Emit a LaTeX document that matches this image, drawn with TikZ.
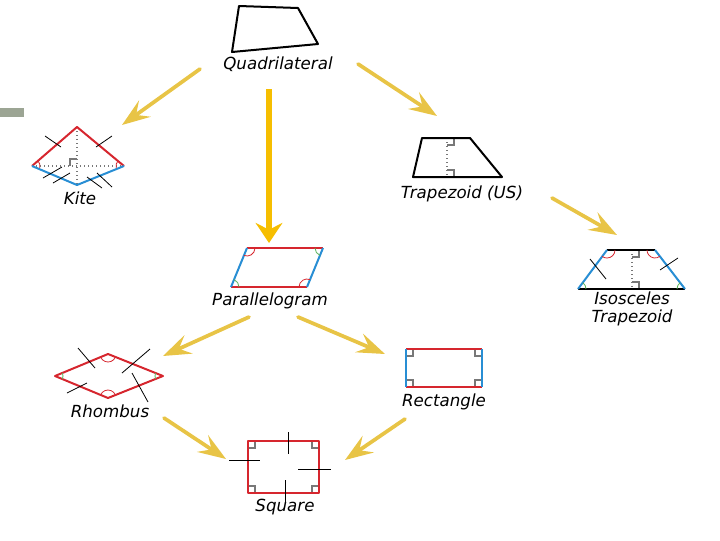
\documentclass[tikz,border=0pt]{standalone}
\usepackage{fontspec}
\setsansfont{DejaVu Sans}
\usetikzlibrary{arrows.meta}

\definecolor{arryellow}{RGB}{232,196,70}
\definecolor{bigyellow}{RGB}{246,190,0}
\definecolor{shred}{RGB}{214,38,46}
\definecolor{shblue}{RGB}{40,142,212}
\definecolor{shgreen}{RGB}{88,178,88}
\definecolor{markgray}{RGB}{120,120,120}
\definecolor{barcol}{RGB}{156,165,148}

\tikzset{every picture/.style={line width=0.75pt}}
\tikzset{
  yarrow/.style={draw=arryellow, line width=2.8pt, line cap=round,
    -{Stealth[length=21pt, width=15pt, inset=8pt]}},
  bigarrow/.style={draw=bigyellow, line width=4.5pt,
    -{Stealth[length=15pt, width=20pt, inset=5pt]}},
  redln/.style={draw=shred, line width=1.5pt, line join=round},
  blueln/.style={draw=shblue, line width=1.5pt, line join=round},
  blkln/.style={draw=black, line width=1.5pt, line join=round},
  dotln/.style={draw=markgray, dotted, line width=1pt},
  tickln/.style={draw=black, line width=0.6pt},
  rtmark/.style={draw=markgray, line width=0.9pt},
  redarc/.style={draw=shred, line width=0.6pt},
  greenarc/.style={draw=shgreen, line width=0.6pt},
  lbl/.style={inner sep=0.75pt, font=\sffamily\itshape\fontsize{12.5}{13}\selectfont}
}

\begin{document}
\begin{tikzpicture}[x=0.75pt,y=0.75pt,yscale=-1,xscale=1]
\useasboundingbox (0,0) rectangle (720,540);

%Shape: Bar
\fill[barcol] (0,108) rectangle (24,117);

%Shape: Quadrilateral
\draw[blkln] (239,6) -- (298,8) -- (318,44) -- (232,52) -- cycle;

%Shape: Kite
\draw[dotln] (32,166) -- (124,166);
\draw[dotln] (77,127) -- (77,185);
\draw[rtmark] (70,166) -- (70,159) -- (77,159);
\draw[redln] (32,166) -- (77,127) -- (124,166);
\draw[blueln] (32,166) -- (77,185) -- (124,166);
\draw[redarc] (32,166) ++(-41:8) arc (-41:15:8);
\draw[redarc] (124,166) ++(165:8) arc (165:221:8);
\draw[tickln] (45,136) -- (61,147);
\draw[tickln] (96,147) -- (112,136);
\draw[tickln] (43,178) -- (62,167);
\draw[tickln] (53,183) -- (70,173);
\draw[tickln] (87,177) -- (102,188);
\draw[tickln] (97,173) -- (112,187);

%Shape: Trapezoid
\draw[dotln] (447,138) -- (447,177);
\draw[rtmark] (447,145) -- (454,145) -- (454,138);
\draw[rtmark] (447,170) -- (454,170) -- (454,177);
\draw[blkln] (422,138) -- (470,138) -- (502,177) -- (413,177) -- cycle;

%Shape: Isosceles Trapezoid
\draw[dotln] (632,250) -- (632,289);
\draw[rtmark] (632,257) -- (639,257) -- (639,250);
\draw[rtmark] (632,282) -- (639,282) -- (639,289);
\draw[blkln] (607,250) -- (655,250);
\draw[blkln] (578,289) -- (685,289);
\draw[blueln] (607,250) -- (578,289);
\draw[blueln] (655,250) -- (685,289);
\draw[redarc] (607,250) ++(0:8) arc (0:126.6:8);
\draw[redarc] (655,250) ++(52.4:8) arc (52.4:180:8);
\draw[greenarc] (578,289) ++(-53.4:8) arc (-53.4:0:8);
\draw[greenarc] (685,289) ++(180:8) arc (180:232.4:8);
\draw[tickln] (590,259) -- (606,279);
\draw[tickln] (660,270) -- (678,258);

%Shape: Parallelogram
\draw[redln] (247,248) -- (323,248);
\draw[redln] (231,287) -- (307,287);
\draw[blueln] (247,248) -- (231,287);
\draw[blueln] (323,248) -- (307,287);
\draw[redarc] (247,248) ++(0:8) arc (0:112:8);
\draw[redarc] (307,287) ++(180:8) arc (180:292:8);
\draw[greenarc] (323,248) ++(112:8) arc (112:180:8);
\draw[greenarc] (231,287) ++(-68:8) arc (-68:0:8);

%Shape: Rhombus
\draw[redln] (55,376) -- (108,354) -- (163,376) -- (108,398) -- cycle;
\draw[redarc] (108,354) ++(21.8:8) arc (21.8:157.5:8);
\draw[redarc] (108,398) ++(202.5:8) arc (202.5:338.2:8);
\draw[greenarc] (55,376) ++(-22.5:8) arc (-22.5:22.5:8);
\draw[greenarc] (163,376) ++(158.2:8) arc (158.2:201.8:8);
\draw[tickln] (78,348) -- (95,368);
\draw[tickln] (122,373) -- (150,349);
\draw[tickln] (132,373) -- (148,402);
\draw[tickln] (67,393) -- (87,383);

%Shape: Rectangle
\draw[rtmark] (406,356) -- (413,356) -- (413,349);
\draw[rtmark] (482,356) -- (475,356) -- (475,349);
\draw[rtmark] (406,380) -- (413,380) -- (413,387);
\draw[rtmark] (482,380) -- (475,380) -- (475,387);
\draw[redln, line width=1pt] (406,349) -- (482,349);
\draw[redln] (406,387) -- (482,387);
\draw[blueln] (406,349) -- (406,387);
\draw[blueln] (482,349) -- (482,387);

%Shape: Square
\draw[rtmark] (248,448) -- (255,448) -- (255,441);
\draw[rtmark] (319,448) -- (312,448) -- (312,441);
\draw[rtmark] (248,486) -- (255,486) -- (255,493);
\draw[rtmark] (319,486) -- (312,486) -- (312,493);
\draw[redln] (248,441) rectangle (319,493);
\draw[tickln] (288,432) -- (288,454);
\draw[tickln] (285,480) -- (285,503);
\draw[tickln] (229,460) -- (260,460);
\draw[tickln] (298,469) -- (331,469);

% Arrow ends
\coordinate (qk1) at (200,69);
\coordinate (qk2) at (122,125);
\coordinate (qt1) at (358,64);
\coordinate (qt2) at (437,116);
\coordinate (qp1) at (269,89);
\coordinate (qp2) at (269,243);
\coordinate (ti1) at (552,198);
\coordinate (ti2) at (617,235);
\coordinate (pr1) at (249,317);
\coordinate (pr2) at (163,356);
\coordinate (pc1) at (298,317);
\coordinate (pc2) at (385,354);
\coordinate (rs1) at (164,418);
\coordinate (rs2) at (226,459);
\coordinate (cs1) at (405,419);
\coordinate (cs2) at (345,460);

%Arrows
\draw[yarrow] (qk1) -- (qk2);
\draw[yarrow] (qt1) -- (qt2);
\draw[bigarrow] (qp1) -- (qp2);
\draw[yarrow] (ti1) -- (ti2);
\draw[yarrow] (pr1) -- (pr2);
\draw[yarrow] (pc1) -- (pc2);
\draw[yarrow] (rs1) -- (rs2);
\draw[yarrow] (cs1) -- (cs2);

% Text Node
\node[lbl] (quadlbl) at (278,64) {Quadrilateral};
% Text Node
\node[lbl] (kitelbl) at (80,198) {Kite};
% Text Node
\node[lbl] (traplbl) at (462,194) {Trapezoid (US)};
% Text Node
\node[lbl, align=center] (isolbl) at (632,309) {Isosceles\\Trapezoid};
% Text Node
\node[lbl] (paralbl) at (270,301) {Parallelogram};
% Text Node
\node[lbl] (rhomlbl) at (110,411) {Rhombus};
% Text Node
\node[lbl] (rectlbl) at (444,402) {Rectangle};
% Text Node
\node[lbl] (sqlbl) at (285,507) {Square};

\end{tikzpicture}
\end{document}
